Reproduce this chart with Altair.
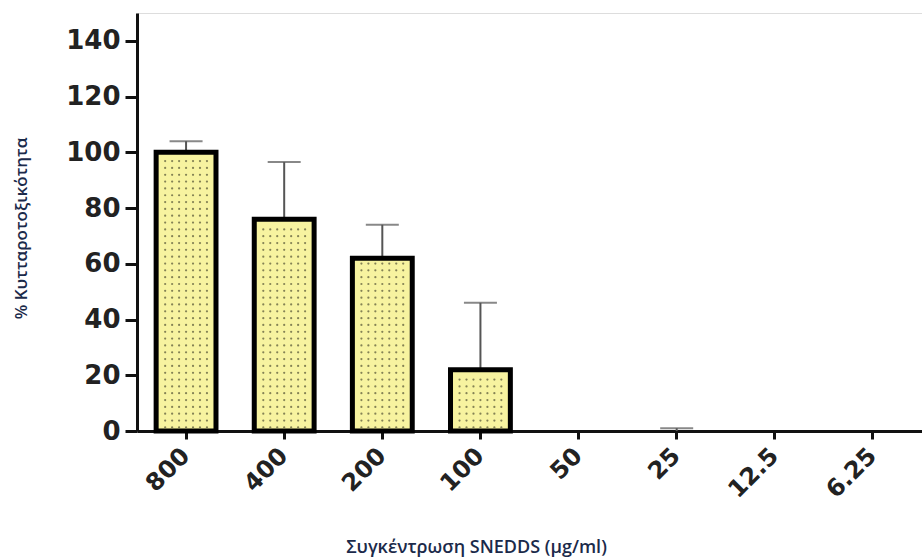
import altair as alt
import numpy as np
import pandas as pd

# Concentrations of SNEDDS (μg/ml) and measured cytotoxicity (%)
concentrations = ["800", "400", "200", "100", "50", "25", "12.5", "6.25"]
mean_values = [100, 76, 62, 22, 0, 0, 0, 0]
error_values = [4, 20.5, 12, 24, 0, 1, 0, 0]

df = pd.DataFrame({
    "conc": concentrations,
    "mean": mean_values,
    "err": error_values,
})
df["upper"] = df["mean"] + df["err"]

# dotted texture inside each bar, derived from the bar heights;
# horizontal position is expressed in band steps (band i is centred at i + 0.5)
dot_rows = []
for i, m in enumerate(mean_values):
    for yv in np.arange(1.3, m - 1.2, 2.45):
        for col in range(7):
            dot_rows.append({"pos": i + 0.5 + (col - 3) * 0.071, "y": float(yv)})
dots = pd.DataFrame(dot_rows)

order = concentrations
x_scale = alt.Scale(domain=order, paddingInner=0.39, paddingOuter=0.195)
y_scale = alt.Scale(domain=[0, 150], nice=False)

TITLE_FONT = "Open Sans"
TITLE_COLOR = "#1b2a4a"

x_enc = alt.X(
    "conc:N",
    sort=order,
    scale=x_scale,
    axis=alt.Axis(
        title="Συγκέντρωση SNEDDS (μg/ml)",
        labelAngle=-45,
        labelFont="DejaVu Sans",
        labelFontWeight="bold",
        labelFontSize=24,
        labelColor="#222222",
        labelPadding=13,
        tickSize=8,
        tickWidth=3,
        tickColor="#111111",
        domainWidth=3,
        domainColor="#111111",
        titleFont=TITLE_FONT,
        titleFontSize=18,
        titleFontWeight=600,
        titleColor=TITLE_COLOR,
        titleX=339,
        titleY=116,
        titleBaseline="middle",
        titleAlign="center",
    ),
)

y_axis = alt.Axis(
    title="% Κυτταροτοξικότητα",
    values=[0, 20, 40, 60, 80, 100, 120, 140],
    grid=False,
    labelFont="DejaVu Sans",
    labelFontWeight="bold",
    labelFontSize=26,
    labelColor="#222222",
    labelPadding=5,
    tickSize=12,
    tickWidth=3,
    tickColor="#111111",
    domainWidth=3,
    domainColor="#111111",
    titleFont=TITLE_FONT,
    titleFontSize=17,
    titleFontWeight=600,
    titleColor=TITLE_COLOR,
    titleAngle=-90,
    titleX=-116,
    titleY=215,
    titleBaseline="middle",
    titleAlign="center",
)

bars = alt.Chart(df).transform_filter("datum.mean > 0").mark_bar(
    fill="#f7f3a0", stroke="#000000", strokeWidth=5
).encode(
    x=x_enc,
    y=alt.Y("mean:Q", scale=y_scale, axis=y_axis),
)

err_rule = alt.Chart(df).transform_filter("datum.err > 0").mark_rule(
    color="#555555", strokeWidth=2
).encode(
    x=alt.X("conc:N", sort=order, scale=x_scale),
    y=alt.Y("mean:Q", scale=y_scale),
    y2="upper:Q",
)

err_cap = alt.Chart(df).transform_filter("datum.err > 0").mark_tick(
    color="#555555", thickness=2, size=33
).encode(
    x=alt.X("conc:N", sort=order, scale=x_scale),
    y=alt.Y("upper:Q", scale=y_scale),
)

band_layers = alt.layer(err_rule, err_cap, bars)

texture = alt.Chart(dots).mark_point(
    shape="circle", size=5, filled=True, color="#77754c", opacity=0.9
).encode(
    x=alt.X("pos:Q", scale=alt.Scale(domain=[0, len(concentrations)], nice=False, zero=False), axis=None),
    y=alt.Y("y:Q", scale=y_scale),
)

chart = alt.layer(band_layers, texture).resolve_scale(x="independent").properties(
    width=785,
    height=418,
    autosize="none",
    padding={"left": 137, "top": 13, "right": 0, "bottom": 127},
).configure_view(stroke=None).configure(background="white")

chart.save("out.html", embed_options={"renderer": "svg", "actions": False})
